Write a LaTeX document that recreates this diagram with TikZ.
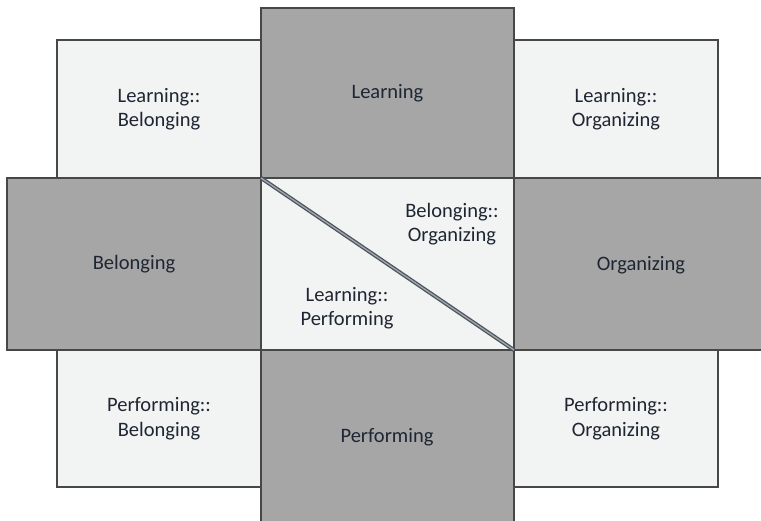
\documentclass[tikz,border=0pt]{standalone}
\usepackage{fontspec}
\setmainfont{Carlito}
\usetikzlibrary{positioning}
\definecolor{darkfill}{HTML}{A6A6A6}
\definecolor{lightfill}{HTML}{F2F3F3}
\definecolor{splitline}{HTML}{4A5563}
\definecolor{inktext}{HTML}{1E2633}

\begin{document}
\begin{tikzpicture}[x=1pt,y=-1pt]
	\tikzstyle{cell}=[rectangle, draw=black!72, line width=1.2pt, inner sep=0pt, outer sep=0pt, align=center, font=\fontsize{20.5}{24.5}\selectfont, text=inktext]
\tikzstyle{dark}=[cell, fill=darkfill]
\tikzstyle{light}=[cell, fill=lightfill]
\tikzstyle{split}=[line width=1.3pt, draw=splitline, double=gray!70, double distance=1.3pt]
\tikzstyle{tag}=[align=center, inner sep=0pt, font=\fontsize{20.5}{24.5}\selectfont, text=inktext]
  \useasboundingbox (0,0) rectangle (761,521);
  \node[light, minimum width=253pt, minimum height=172pt, anchor=north west] (mid) at (261,178) {};
  \node[light, minimum width=204pt, minimum height=138pt, anchor=south east] (lb) at (mid.north west) {Learning::\\Belonging};
  \node[light, minimum width=204pt, minimum height=138pt, anchor=south west] (lo) at (mid.north east) {Learning::\\Organizing};
  \node[light, minimum width=204pt, minimum height=137pt, anchor=north east] (pb) at (mid.south west) {Performing::\\Belonging};
  \node[light, minimum width=204pt, minimum height=137pt, anchor=north west] (po) at (mid.south east) {Performing::\\Organizing};
  \node[dark, minimum width=253pt, minimum height=170pt] (learn) [above=0pt of mid] {Learning};
  \node[dark, minimum width=253pt, minimum height=174pt] (perf) [below=0pt of mid] {};
  \node[dark, minimum width=254pt, minimum height=172pt] (belong) [left=0pt of mid] {Belonging};
  \node[dark, minimum width=250pt, minimum height=172pt] (organ) [right=0pt of mid] {};
  \node[tag] (perftext) at (387,437) {Performing};
  \node[tag] (organtext) at (641,265) {Organizing};
  \path
        (mid.north west) edge [split] (mid.south east);
  \node[tag] (bo) at (452,224) {Belonging::\\Organizing};
  \node[tag] (lp) at (347,308) {Learning::\\Performing};

	\end{tikzpicture}
\end{document}
